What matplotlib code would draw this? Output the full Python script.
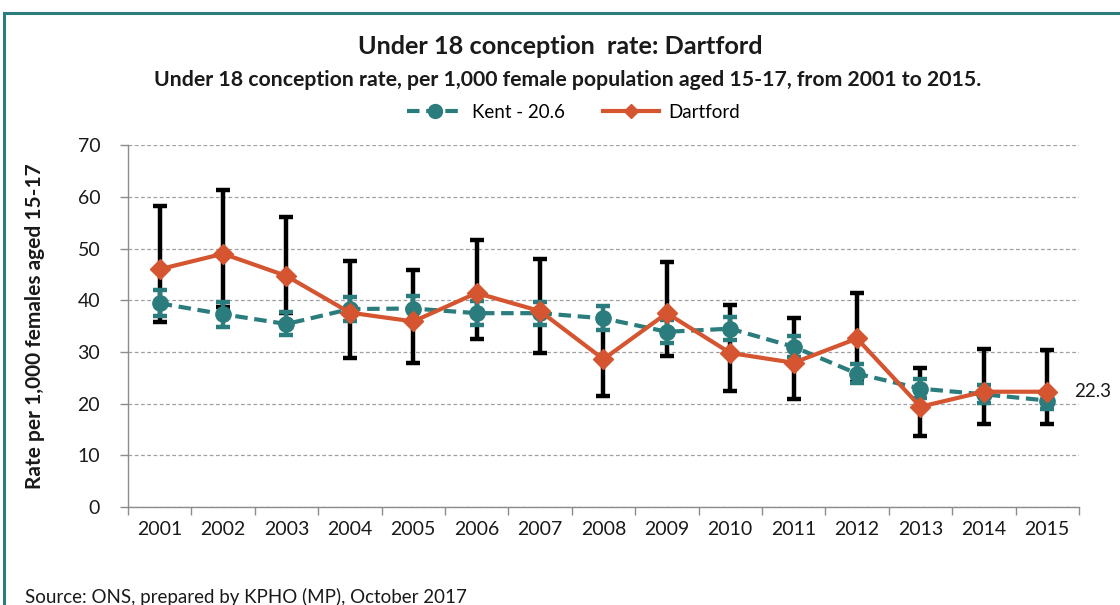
import matplotlib
matplotlib.use("Agg")
import matplotlib.pyplot as plt
from matplotlib.patches import Rectangle
from matplotlib.lines import Line2D
import numpy as np

# ── colours ─────────────────────────────────────────────────────────────────
KENT_C = "#2B7C7D"
DART_C = "#D4552F"
GRID_C = "#A0A0A0"
AXIS_C = "#8C8C8C"
TEXT_C = "#1A1A1A"
FONT = "Lato"

# ── data ────────────────────────────────────────────────────────────────────
years = ["2001", "2002", "2003", "2004", "2005", "2006", "2007", "2008",
         "2009", "2010", "2011", "2012", "2013", "2014", "2015"]

kent = [39.4, 37.3, 35.4, 38.3, 38.4, 37.5, 37.5, 36.5,
        33.9, 34.5, 31.0, 25.8, 22.9, 21.8, 20.6]
kent_lo = [36.9, 34.9, 33.2, 36.0, 36.0, 35.2, 35.2, 34.3,
           31.8, 32.4, 29.0, 24.0, 21.1, 20.1, 18.9]
kent_hi = [42.0, 39.7, 37.7, 40.7, 40.8, 39.8, 39.7, 38.8,
           36.1, 36.7, 33.0, 27.7, 24.7, 23.6, 22.4]

dartford = [46.0, 49.0, 44.7, 37.6, 35.9, 41.4, 37.9, 28.6,
            37.5, 29.8, 27.9, 32.6, 19.4, 22.3, 22.3]
dart_lo = [35.8, 38.6, 37.5, 28.9, 27.9, 32.5, 29.8, 21.4,
           29.2, 22.5, 20.8, 24.2, 13.7, 16.0, 16.0]
dart_hi = [58.3, 61.4, 56.1, 47.5, 45.8, 51.7, 47.9, 36.2,
           47.4, 39.1, 36.6, 41.5, 26.9, 30.5, 30.3]

yticks = [0, 10, 20, 30, 40, 50, 60, 70]

# ── figure ──────────────────────────────────────────────────────────────────
fig = plt.figure(figsize=(11.2, 6.05), dpi=100)
fig.patch.set_facecolor("white")
ax = fig.add_axes([0.1143, 0.162, 0.849, 0.598])

x = np.arange(len(years))
k = np.array(kent)
d = np.array(dartford)

# Dartford confidence intervals (black, behind everything)
ax.errorbar(x, d, yerr=[d - np.array(dart_lo), np.array(dart_hi) - d],
            fmt="none", ecolor="black", elinewidth=3.2, capsize=5,
            capthick=3.2, zorder=2)
# Kent confidence intervals (teal)
ax.errorbar(x, k, yerr=[k - np.array(kent_lo), np.array(kent_hi) - k],
            fmt="none", ecolor=KENT_C, elinewidth=3.2, capsize=5,
            capthick=3.2, zorder=3)
ax.plot(x, k, color=KENT_C, lw=3, ls=(0, (3, 1.6)), marker="o",
        markersize=11, zorder=4)
ax.plot(x, d, color=DART_C, lw=3, marker="D", markersize=10, zorder=5)

ax.text(x[-1] + 0.42, d[-1], f"{dartford[-1]:.1f}", fontsize=13.5,
        family=FONT, color=TEXT_C, ha="left", va="center")

ax.set_xlim(-0.5, len(years) - 0.5)
ax.set_ylim(0, 70)
ax.set_yticks(yticks)
ax.set_xticks(x)
ax.set_xticklabels(years)
ax.set_xticks(np.arange(-0.5, len(years)), minor=True)
ax.tick_params(axis="x", which="major", length=0, pad=10)
ax.tick_params(axis="x", which="minor", length=6, color=AXIS_C, width=1)
ax.tick_params(axis="y", length=6, color=AXIS_C, width=1, pad=14)
for lab in ax.get_xticklabels() + ax.get_yticklabels():
    lab.set_fontfamily(FONT)
    lab.set_fontsize(14)
    lab.set_color(TEXT_C)

ax.grid(axis="y", color=GRID_C, ls=(0, (3, 2)), lw=0.9)
ax.set_axisbelow(True)
for s in ["top", "right"]:
    ax.spines[s].set_visible(False)
for s in ["left", "bottom"]:
    ax.spines[s].set_color(AXIS_C)
    ax.spines[s].set_linewidth(1)

ax.set_ylabel("Rate per 1,000 females aged 15-17", fontsize=15,
              fontweight="bold", family=FONT, color=TEXT_C)
ax.yaxis.set_label_coords(-0.087, 0.5)

# ── titles ──────────────────────────────────────────────────────────────────
fig.text(0.5, 1 - 47 / 605, "Under 18 conception  rate: Dartford",
         fontsize=18.2, fontweight="bold", family=FONT, color=TEXT_C,
         ha="center", va="center")
fig.text(0.507, 1 - 80 / 605,
         "Under 18 conception rate, per 1,000 female population aged 15-17, from 2001 to 2015.",
         fontsize=15.3, fontweight="bold", family=FONT, color=TEXT_C,
         ha="center", va="center")

# ── legend ──────────────────────────────────────────────────────────────────
handles = [
    Line2D([], [], color=KENT_C, lw=3, ls=(0, (3, 1.6)), marker="o",
           markersize=10),
    Line2D([], [], color=DART_C, lw=3, marker="D", markersize=7),
]
fig.legend(handles, ["Kent - 20.6", "Dartford"], loc="center",
           bbox_to_anchor=(0.512, 1 - 112 / 605), ncol=2, frameon=False,
           prop={"family": FONT, "size": 13.5}, handlelength=3.0,
           columnspacing=2.0, handletextpad=0.5)

fig.text(25 / 1120, 1 - 597 / 605, "Source: ONS, prepared by KPHO (MP), October 2017",
         fontsize=13.5, family=FONT, color=TEXT_C, ha="left", va="center")

# teal frame around the chart (cut off at right/bottom as in the source)
fig.patches.append(Rectangle((4 / 1120, -0.05), 1.2, 1 - 13 / 605 + 0.05,
                             transform=fig.transFigure, fill=False,
                             edgecolor=KENT_C, lw=2.2))

fig.savefig("out.png", dpi=100, facecolor="white")
